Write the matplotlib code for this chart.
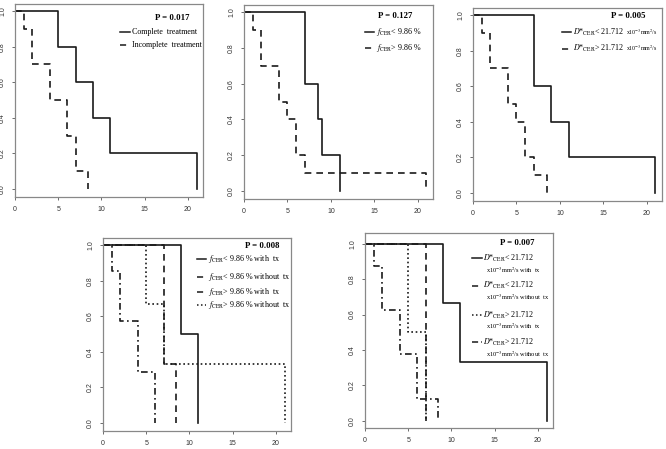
import matplotlib
matplotlib.use("Agg")
import matplotlib.pyplot as plt

plt.rcParams["mathtext.fontset"] = "stix"
plt.rcParams["font.family"] = ["Liberation Serif", "DejaVu Serif"]

# --- survival data (time, survival proportion) ---
complete_t = [0, 5, 7, 9, 11, 21]
complete_s = [1.0, 0.8, 0.6, 0.4, 0.2, 0.0]
incomplete_t = [0, 1, 2, 4, 6, 7, 8.5]
incomplete_s = [1.0, 0.9, 0.7, 0.5, 0.3, 0.1, 0.0]

flow_t = [0, 7, 8.5, 9, 11]
flow_s = [1.0, 0.6, 0.4, 0.2, 0.0]
fhigh_t = [0, 1, 2, 4, 5, 6, 7, 21]
fhigh_s = [1.0, 0.9, 0.7, 0.5, 0.4, 0.2, 0.1, 0.0]

dlow_t = [0, 7, 9, 11, 21]
dlow_s = [1.0, 0.6, 0.4, 0.2, 0.0]
dhigh_t = [0, 1, 2, 4, 5, 6, 7, 8.5]
dhigh_s = [1.0, 0.9, 0.7, 0.5, 0.4, 0.2, 0.1, 0.0]

flow_tx_t = [0, 9, 11]
flow_tx_s = [1.0, 0.5, 0.0]
flow_notx_t = [0, 7, 8.5]
flow_notx_s = [1.0, 1 / 3, 0.0]
fhigh_tx_t = [0, 1, 2, 4, 6]
fhigh_tx_s = [1.0, 6 / 7, 4 / 7, 2 / 7, 0.0]
fhigh_notx_t = [0, 5, 7, 21]
fhigh_notx_s = [1.0, 2 / 3, 1 / 3, 0.0]

dlow_tx_t = [0, 9, 11, 21]
dlow_tx_s = [1.0, 2 / 3, 1 / 3, 0.0]
dlow_notx_t = [0, 7]
dlow_notx_s = [1.0, 0.0]
dhigh_tx_t = [0, 5, 7]
dhigh_tx_s = [1.0, 0.5, 0.0]
dhigh_notx_t = [0, 1, 2, 4, 6, 8.5]
dhigh_notx_s = [1.0, 0.875, 0.625, 0.375, 0.125, 0.0]

p_values = ["P = 0.017", "P = 0.127", "P = 0.005", "P = 0.008", "P = 0.007"]
x_ticks = [0, 5, 10, 15, 20]
y_ticks = [0.0, 0.2, 0.4, 0.6, 0.8, 1.0]

SOLID = "-"
DASH = (0, (4, 3))
DOT = (0, (1, 1.6))
DASHDOT = (0, (4, 2, 1, 2))
LINE_C = "#1a1a1a"

W, H = 666, 449
fig = plt.figure(figsize=(W / 100, H / 100), dpi=100)


def make_axes(left, top, right, bottom, ylim=(-0.045, 1.04)):
    ax = fig.add_axes([left / W, 1 - bottom / H, (right - left) / W, (bottom - top) / H])
    ax.set_xlim(0, 21.75)
    ax.set_ylim(*ylim)
    ax.set_xticks(x_ticks)
    ax.set_yticks(y_ticks)
    ax.set_xticklabels([str(v) for v in x_ticks], fontfamily="Liberation Sans")
    ax.set_yticklabels(["%.1f" % v for v in y_ticks], rotation=90, va="center",
                       fontfamily="Liberation Sans")
    ax.tick_params(labelsize=5, length=2.5, width=0.6, color="#555",
                   labelcolor="#333", pad=4)
    for sp in ax.spines.values():
        sp.set_color("#888")
        sp.set_linewidth(0.9)
    return ax


def curve(ax, t, s, ls):
    ax.step(t, s, where="post", color=LINE_C, lw=1.2, linestyle=ls)


def key(ax, p, p_xy, hx, tx, entries, size=5.8):
    ax.text(p_xy[0], p_xy[1], p, transform=ax.transAxes, ha="center", va="center",
            fontsize=6.3, fontweight="bold")
    for ls, y, label, sub in entries:
        ax.plot([hx, hx + 0.05], [y, y], transform=ax.transAxes, color=LINE_C,
                lw=1.1, linestyle=ls, clip_on=False)
        t = ax.text(tx, y, label, transform=ax.transAxes, ha="left", va="center",
                    fontsize=size)
        if sub:
            kind, txt = sub
            if kind == "right":
                ax.annotate(txt, xy=(1, 0.5), xycoords=t, xytext=(1, 0),
                            textcoords="offset points", ha="left", va="center",
                            fontsize=4.2)
            else:
                ax.annotate(txt, xy=(0, 0), xycoords=t, xytext=(2, -1),
                            textcoords="offset points", ha="left", va="top",
                            fontsize=4.6)


DSTAR = r"$D$*$_{\mathrm{CER}}$"
FCER = r"$f_{\mathrm{CER}}$"
UNIT = r"x10$^{-3}$mm$^{2}$/s"

# panel 1
ax1 = make_axes(15, 4, 203, 197)
curve(ax1, complete_t, complete_s, SOLID)
curve(ax1, incomplete_t, incomplete_s, DASH)
key(ax1, p_values[0], (0.835, 0.925), 0.56, 0.625,
    [(SOLID, 0.855, "Complete  treatment", None),
     (DASH, 0.79, "Incomplete  treatment", None)])

# panel 2
ax2 = make_axes(244, 5, 433, 199)
curve(ax2, flow_t, flow_s, SOLID)
curve(ax2, fhigh_t, fhigh_s, DASH)
key(ax2, p_values[1], (0.80, 0.945), 0.64, 0.70,
    [(SOLID, 0.86, FCER + "< 9.86 %", None),
     (DASH, 0.78, FCER + "> 9.86 %", None)])

# panel 3
ax3 = make_axes(473, 8, 662, 201)
curve(ax3, dlow_t, dlow_s, SOLID)
curve(ax3, dhigh_t, dhigh_s, DASH)
key(ax3, p_values[2], (0.82, 0.96), 0.47, 0.53,
    [(SOLID, 0.875, DSTAR + "< 21.712", ("right", UNIT)),
     (DASH, 0.79, DSTAR + "> 21.712", ("right", UNIT))])

# panel 4
ax4 = make_axes(103, 238, 291, 431)
curve(ax4, flow_tx_t, flow_tx_s, SOLID)
curve(ax4, flow_notx_t, flow_notx_s, DASH)
curve(ax4, fhigh_tx_t, fhigh_tx_s, DASHDOT)
curve(ax4, fhigh_notx_t, fhigh_notx_s, DOT)
key(ax4, p_values[3], (0.845, 0.96), 0.50, 0.56,
    [(SOLID, 0.89, FCER + "< 9.86 % with  tx", None),
     (DASH, 0.80, FCER + "< 9.86 % without  tx", None),
     (DASHDOT, 0.72, FCER + "> 9.86 % with  tx", None),
     (DOT, 0.655, FCER + "> 9.86 % without  tx", None)])

# panel 5
ax5 = make_axes(365, 233, 553, 428, ylim=(-0.04, 1.06))
curve(ax5, dlow_tx_t, dlow_tx_s, SOLID)
curve(ax5, dlow_notx_t, dlow_notx_s, DASH)
curve(ax5, dhigh_tx_t, dhigh_tx_s, DOT)
curve(ax5, dhigh_notx_t, dhigh_notx_s, DASHDOT)
key(ax5, p_values[4], (0.81, 0.95), 0.57, 0.63,
    [(SOLID, 0.87, DSTAR + "< 21.712", ("below", UNIT + " with  tx")),
     (DASH, 0.73, DSTAR + "< 21.712", ("below", UNIT + " without  tx")),
     (DOT, 0.58, DSTAR + "> 21.712", ("below", UNIT + " with  tx")),
     (DASHDOT, 0.44, DSTAR + "> 21.712", ("below", UNIT + " without  tx"))])

fig.savefig("out.png", dpi=100)
